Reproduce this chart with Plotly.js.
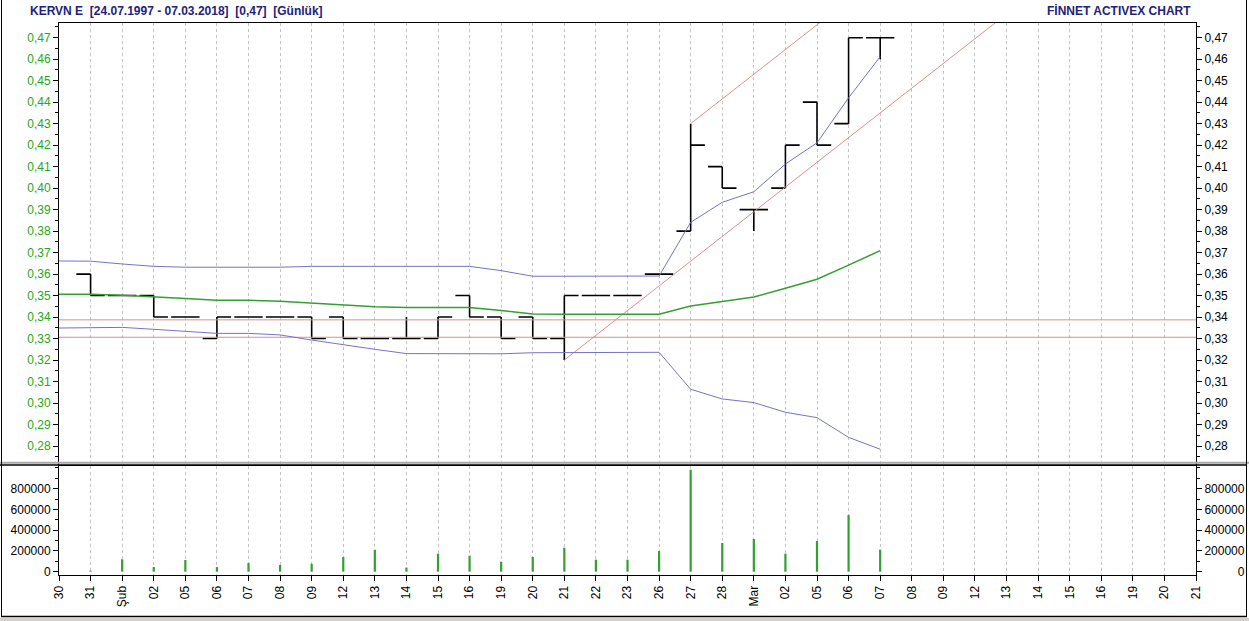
<!DOCTYPE html>
<html><head><meta charset="utf-8">
<script src="https://cdn.plot.ly/plotly-3.0.1.min.js"></script>
<style>html,body{margin:0;padding:0;background:#fff;overflow:hidden}#chart{width:1249px;height:621px}</style>
</head><body><div id="chart"></div>
<script>
// x-axis day labels (trading days)
const dayLabels = ['30','31','Şub','02','05','06','07','08','09','12','13','14','15','16','19','20','21','22','23','26','27','28','Mar','02','05','06','07','08','09','12','13','14','15','16','19','20','21'];

// OHLC per day (index 0 = "30" has no bar)
const openP  = [null,0.36,0.35,0.35,0.34,0.33,0.34,0.34,0.34,0.34,0.33,0.33,0.33,0.35,0.34,0.34,0.33,0.35,0.35,0.36,0.38,0.41,0.39,0.40,0.44,0.43,0.47];
const highP  = [null,0.36,0.35,0.35,0.34,0.34,0.34,0.34,0.34,0.34,0.33,0.34,0.34,0.35,0.34,0.34,0.35,0.35,0.35,0.36,0.43,0.41,0.39,0.42,0.44,0.47,0.47];
const lowP   = [null,0.35,0.35,0.34,0.34,0.33,0.34,0.34,0.33,0.33,0.33,0.33,0.33,0.34,0.33,0.33,0.32,0.35,0.35,0.36,0.38,0.40,0.38,0.40,0.42,0.43,0.46];
const closeP = [null,0.35,0.35,0.34,0.34,0.34,0.34,0.34,0.33,0.33,0.33,0.33,0.34,0.34,0.33,0.33,0.35,0.35,0.35,0.36,0.42,0.40,0.39,0.42,0.42,0.47,0.47];

// Volume per day
const volume = [null,10000,120000,45000,113000,45000,84000,65000,77000,142000,212000,40000,174000,154000,96000,142000,231000,116000,116000,199000,983000,277000,315000,174000,296000,546000,212000];

// Bollinger-type bands
const upperBand  = [0.3661,0.3660,0.3647,0.3636,0.3632,0.3632,0.3632,0.3632,0.3636,0.3636,0.3636,0.3636,0.3636,0.3636,0.3616,0.3590,0.3590,0.3590,0.3590,0.3591,0.3841,0.3934,0.3983,0.4112,0.4211,0.4420,0.4612];
const middleBand = [0.3506,0.3506,0.3501,0.3492,0.3486,0.3478,0.3478,0.3473,0.3464,0.3455,0.3448,0.3445,0.3445,0.3445,0.3430,0.3414,0.3413,0.3413,0.3413,0.3413,0.3451,0.3473,0.3493,0.3534,0.3576,0.3642,0.3709];
const lowerBand  = [0.3349,0.3349,0.3352,0.3343,0.3332,0.3324,0.3324,0.3317,0.3293,0.3270,0.3250,0.3230,0.3229,0.3229,0.3229,0.3234,0.3234,0.3234,0.3234,0.3236,0.3064,0.3019,0.3002,0.2957,0.2932,0.2840,0.2785];

// Horizontal support levels
const supportLevels = [0.3387, 0.3306];

// Trend channel lines (day index, price)
const trendLowerX = [16, 30], trendLowerY = [0.32, 0.481];
const trendUpperX = [20, 30], trendUpperY = [0.43, 0.545];

const priceTicks = [0.28,0.29,0.30,0.31,0.32,0.33,0.34,0.35,0.36,0.37,0.38,0.39,0.40,0.41,0.42,0.43,0.44,0.45,0.46,0.47];
const volTicks = [0,200000,400000,600000,800000];

const xIdx = dayLabels.map((_, i) => i);
const bandX = upperBand.map((_, i) => i);
const barIdx = openP.map((v, i) => v === null ? -1 : i).filter(i => i >= 0);
const pick = arr => barIdx.map(i => arr[i]);

const BLUE = '#7373c6', GREEN = '#33a033', RED = '#dc8e8e';
const lastX = dayLabels.length - 1;

const traces = [
  {type:'ohlc', x: barIdx, open: pick(openP), high: pick(highP), low: pick(lowP), close: pick(closeP),
   increasing:{line:{color:'#000', width:1.6}}, decreasing:{line:{color:'#000', width:1.6}},
   tickwidth:0.45, xaxis:'x2', yaxis:'y', hoverinfo:'skip', showlegend:false},
  {type:'scatter', mode:'lines', x:[0,lastX], y:[supportLevels[0],supportLevels[0]], line:{color:RED,width:1}, xaxis:'x2', yaxis:'y', hoverinfo:'skip', showlegend:false},
  {type:'scatter', mode:'lines', x:[0,lastX], y:[supportLevels[1],supportLevels[1]], line:{color:RED,width:1}, xaxis:'x2', yaxis:'y', hoverinfo:'skip', showlegend:false},
  {type:'scatter', mode:'lines', x:trendLowerX, y:trendLowerY, line:{color:RED,width:1}, xaxis:'x2', yaxis:'y', hoverinfo:'skip', showlegend:false},
  {type:'scatter', mode:'lines', x:trendUpperX, y:trendUpperY, line:{color:RED,width:1}, xaxis:'x2', yaxis:'y', hoverinfo:'skip', showlegend:false},
  {type:'scatter', mode:'lines', x:bandX, y:upperBand, line:{color:BLUE,width:1}, xaxis:'x2', yaxis:'y', hoverinfo:'skip', showlegend:false},
  {type:'scatter', mode:'lines', x:bandX, y:lowerBand, line:{color:BLUE,width:1}, xaxis:'x2', yaxis:'y', hoverinfo:'skip', showlegend:false},
  {type:'scatter', mode:'lines', x:bandX, y:middleBand, line:{color:GREEN,width:1.5}, xaxis:'x2', yaxis:'y', hoverinfo:'skip', showlegend:false},
  {type:'bar', x: barIdx, y: pick(volume), width:0.07, marker:{color:GREEN, line:{width:0}}, xaxis:'x', yaxis:'y2', hoverinfo:'skip', showlegend:false},
  {type:'scatter', mode:'lines', x:[null], y:[null], xaxis:'x2', yaxis:'y3', hoverinfo:'skip', showlegend:false},
  {type:'scatter', mode:'lines', x:[null], y:[null], xaxis:'x', yaxis:'y4', hoverinfo:'skip', showlegend:false}
];

// Layout geometry (pixels): plot area left 59, right 1196, top 23, bottom 575
const H = 552, T = 23, B = 575, L = 59, W = 1137;
const py = Y => (B - Y) / H;
const px = X => (X - L) / W;
const priceBottomY = 464.5, volTopY = 465.5;

const FONT = 'Liberation Sans, Arial, sans-serif';
const commonX = {
  range:[0,lastX], tickmode:'array', tickvals: xIdx, ticktext: dayLabels,
  showgrid:true, gridcolor:'#c4c4c4', griddash:'dot', gridwidth:1,
  zeroline:false, showline:true, linecolor:'#000', linewidth:1, mirror:true,
  rangeslider:{visible:false}, fixedrange:true
};

const layout = {
  width:1249, height:621,
  margin:{l:L, r:1249-1196, t:T, b:621-B, pad:0},
  paper_bgcolor:'#fff', plot_bgcolor:'#fff',
  separators:',.',
  font:{family:FONT, size:12, color:'#000'},
  showlegend:false,
  xaxis: Object.assign({}, commonX, {
    anchor:'y2', ticks:'outside', ticklen:5, tickcolor:'#000', tickangle:-90,
    tickfont:{family:FONT, size:12, color:'#000'}, showticklabels:true
  }),
  xaxis2: Object.assign({}, commonX, {
    anchor:'y', matches:'x', ticks:'', showticklabels:false
  }),
  yaxis: {
    domain:[py(priceBottomY), 1], range:[0.27139, 0.47684], anchor:'x2',
    tickmode:'array', tickvals: priceTicks, tickformat:'.2f',
    ticks:'outside', ticklen:5, tickcolor:'#000', tickfont:{family:FONT, size:12, color:'#22a822'},
    minor:{tickmode:'linear', tick0:0.275, dtick:0.01, ticks:'outside', ticklen:3, tickcolor:'#000', showgrid:false},
    showgrid:false, zeroline:false, showline:true, linecolor:'#000', fixedrange:true
  },
  yaxis3: {
    overlaying:'y', side:'right', anchor:'x2', range:[0.27139, 0.47684],
    tickmode:'array', tickvals: priceTicks, tickformat:'.2f',
    ticks:'outside', ticklen:5, tickcolor:'#000', tickfont:{family:FONT, size:12, color:'#000'},
    minor:{tickmode:'linear', tick0:0.275, dtick:0.01, ticks:'outside', ticklen:3, tickcolor:'#000', showgrid:false},
    showgrid:false, zeroline:false, showline:true, linecolor:'#000', fixedrange:true
  },
  yaxis2: {
    domain:[0, py(volTopY)], range:[-31800, 1023600], anchor:'x',
    tickmode:'array', tickvals: volTicks, tickformat:'d',
    ticks:'outside', ticklen:5, tickcolor:'#000', tickfont:{family:FONT, size:12, color:'#000'},
    minor:{tickmode:'linear', tick0:0, dtick:100000, ticks:'outside', ticklen:3, tickcolor:'#000', showgrid:false},
    showgrid:false, zeroline:false, showline:true, linecolor:'#000', fixedrange:true
  },
  yaxis4: {
    overlaying:'y2', side:'right', anchor:'x', range:[-31800, 1023600],
    tickmode:'array', tickvals: volTicks,
    ticktext: volTicks.map(v => '\u2007'.repeat(6 - String(v).length) + String(v)),
    ticks:'outside', ticklen:5, tickcolor:'#000', tickfont:{family:FONT, size:12, color:'#000'},
    minor:{tickmode:'linear', tick0:0, dtick:100000, ticks:'outside', ticklen:3, tickcolor:'#000', showgrid:false},
    showgrid:false, zeroline:false, showline:true, linecolor:'#000', fixedrange:true
  },
  annotations:[
    {xref:'paper', yref:'paper', x:px(28), y:py(11), xanchor:'left', yanchor:'middle', showarrow:false,
     text:'<b>KERVN E\u00a0\u00a0[24.07.1997 - 07.03.2018]\u00a0\u00a0[0,47]\u00a0\u00a0[Günlük]</b>',
     font:{family:FONT, size:12, color:'#22227a'}},
    {xref:'paper', yref:'paper', x:px(1193), y:py(11), xanchor:'right', yanchor:'middle', showarrow:false,
     text:'<b>FİNNET ACTIVEX CHART</b>', font:{family:FONT, size:12, color:'#22227a'}}
  ],
  shapes:[
    {type:'line', xref:'paper', yref:'paper', x0:px(0), x1:px(1249), y0:py(462.8), y1:py(462.8), line:{color:'#a8a8a8', width:2}},
    {type:'line', xref:'paper', yref:'paper', x0:px(0), x1:px(1247), y0:py(465), y1:py(465), line:{color:'#000', width:1.5}},
    {type:'line', xref:'paper', yref:'paper', x0:px(1.5), x1:px(1.5), y0:py(0), y1:py(616.5), line:{color:'#000', width:1}},
    {type:'line', xref:'paper', yref:'paper', x0:px(1246.5), x1:px(1246.5), y0:py(0), y1:py(616.5), line:{color:'#000', width:1}},
    {type:'line', xref:'paper', yref:'paper', x0:px(1), x1:px(1247), y0:py(616.5), y1:py(616.5), line:{color:'#000', width:1.5}},
    {type:'rect', xref:'paper', yref:'paper', x0:px(0), x1:px(1249), y0:py(618), y1:py(621), fillcolor:'#d4d0c8', line:{width:0}}
  ]
};

Plotly.newPlot('chart', traces, layout, {staticPlot:true, displayModeBar:false});
</script>
</body></html>
